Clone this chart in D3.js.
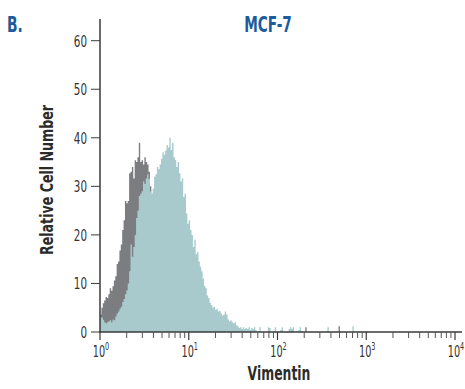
<!DOCTYPE html>
<html><head><meta charset="utf-8">
<script src="https://cdn.jsdelivr.net/npm/d3@7"></script>
<style>
body{margin:0;background:#fff}
svg{display:block}
text{font-family:"DejaVu Sans Condensed","Liberation Sans Narrow",sans-serif}
</style>
</head><body>
<svg id="c" width="465" height="389"></svg>
<script>
// ---- data ----
const nChannels = 256;            // channels across 4 log decades
const xDecades = [1, 10, 100, 1000, 10000];
const yTicks = [0, 10, 20, 30, 40, 50, 60];
// isotype control (gray), channel 0 upward
const isotypeCounts = [3.6,5,5.9,6.5,7.2,7,7.8,9,8.5,9.4,
  10.6,11.5,14,14.5,16.8,18,21,23,27,26.5,
  27,32.7,33,34,31.6,35.4,35,36,39,35,
  35.4,34.5,36,35,34.5,33,30,27,25,22,
  20,17,14,12,10,8,7,5,4,3,
  2.5,2,1.5,1.2,1,0.8,0.6,0.5,0.4,0.3,0.2];
const isotypeTail = [[148,1.0],[172,1.2]];
// vimentin stained (teal), channel 0 upward
const vimentinCounts = [3,3,2.5,2,1.8,2,2.2,2.4,2,2.6,
  2.4,3.2,3.8,4.2,4.8,5.2,6.2,6.8,7.8,8.6,
  10,12.5,18,15.5,17.5,20,23.5,25,28,28.5,
  29,31,30.5,31.6,32.5,31.5,29,28.5,29.5,32,
  32.5,34,33.5,34.5,35.7,37,36.5,37.4,38.5,38,
  40,37.5,39,36,35.5,34,35,32.7,31,31.6,
  27.8,28.5,24.4,22.3,23,21,20,17.5,19,16,
  16.5,14.5,13.5,12.5,11,9.5,9,7.5,7,6,
  5.5,5,5.2,4.6,4.8,4.2,4.4,3.8,3.4,3.6,
  4.2,3.6,2.6,2.2,2.4,2,1.8,2,1.4,1.2,
  0.8,1,0.6,1,0.6,0.8,0.6,1,0.4,0.8,
  0.6,1,0.4,0,0.2];
const vimentinTail = [[115,1],[121,1],[122,0.8],[126,1],[130,0.4],[131,1],
  [136,0.6],[137,1],[138,0.6],[139,1],[143,0.4],[144,1],[164,1],[182,1.2]];

// ---- build ----
function channels(body, tail){
  const a = new Array(nChannels).fill(0);
  body.forEach((v,i)=>a[i]=v);
  tail.forEach(([i,v])=>a[i]=v);
  return a;
}
const gray = channels(isotypeCounts, isotypeTail);
const teal = channels(vimentinCounts, vimentinTail);

const svg = d3.select("#c");
const x = d3.scaleLog().domain([1,10000]).range([100,455]);
const y = d3.scaleLinear().domain([0,60]).range([332,40.7]);
const chVal = i => Math.pow(10, i*4/nChannels);

function histPath(arr){
  const pts = arr.map((v,i)=>({i, v}));
  pts.push({i: nChannels, v: arr[nChannels-1]});
  return d3.area().curve(d3.curveStepAfter)
    .x(d=>x(chVal(d.i))).y0(y(0)).y1(d=>y(d.v))(pts);
}
svg.append("path").attr("d", histPath(gray)).attr("fill","#7c7d81");
svg.append("path").attr("d", histPath(teal)).attr("fill","#a8cacc");

// condensed text helper
function label(parent, px, py, str, size, opts={}){
  const g = parent.append("g").attr("transform",
    `translate(${px},${py})${opts.rotate?` rotate(${opts.rotate})`:""} scale(${opts.sx||0.72},1)`);
  const t = g.append("text").attr("x",0).attr("y",0)
    .attr("text-anchor", opts.anchor||"start").attr("font-size",size)
    .attr("font-weight", opts.bold?"bold":"normal").attr("fill", opts.fill||"#333");
  if (str !== null) t.text(str);
  return t;
}

const axisColor = "#3a3a3a";
// y axis
svg.append("line").attr("x1",100).attr("x2",100).attr("y1",19).attr("y2",332)
  .attr("stroke",axisColor).attr("stroke-width",1.5);
const yt = svg.append("g");
yTicks.forEach(t=>{
  yt.append("line").attr("x1",91).attr("x2",100).attr("y1",y(t)).attr("y2",y(t))
    .attr("stroke",axisColor).attr("stroke-width",1);
  label(yt, 87, y(t)+6, String(t), 16, {anchor:"end", sx:0.72});
});
// x axis
svg.append("line").attr("x1",99.25).attr("x2",462).attr("y1",332).attr("y2",332)
  .attr("stroke",axisColor).attr("stroke-width",1.5);
const xt = svg.append("g");
for (let d=0; d<4; d++){
  for (let m=2; m<=9; m++){
    const v = Math.pow(10,d)*m;
    xt.append("line").attr("x1",x(v)).attr("x2",x(v)).attr("y1",332).attr("y2",338)
      .attr("stroke","#555").attr("stroke-width",1);
  }
}
xDecades.forEach((v,k)=>{
  xt.append("line").attr("x1",x(v)).attr("x2",x(v)).attr("y1",332).attr("y2",340)
    .attr("stroke",axisColor).attr("stroke-width",1.2);
  const t = label(xt, x(v)+1, 357, null, 15, {anchor:"middle", sx:0.72});
  t.append("tspan").text("10");
  t.append("tspan").attr("dy",-7).attr("font-size",10).text(String(k));
});

// titles
label(svg, 7, 32, "B.", 22, {bold:true, fill:"#1d5c9c", sx:0.7});
label(svg, 268, 32, "MCF-7", 22, {bold:true, fill:"#1d5c9c", anchor:"middle", sx:0.69});
label(svg, 279, 380, "Vimentin", 20, {bold:true, fill:"#2b2b2b", anchor:"middle", sx:0.69});
label(svg, 53, 180, "Relative Cell Number", 18, {bold:true, fill:"#2b2b2b", anchor:"middle", rotate:-90, sx:0.78});
</script>
</body></html>
